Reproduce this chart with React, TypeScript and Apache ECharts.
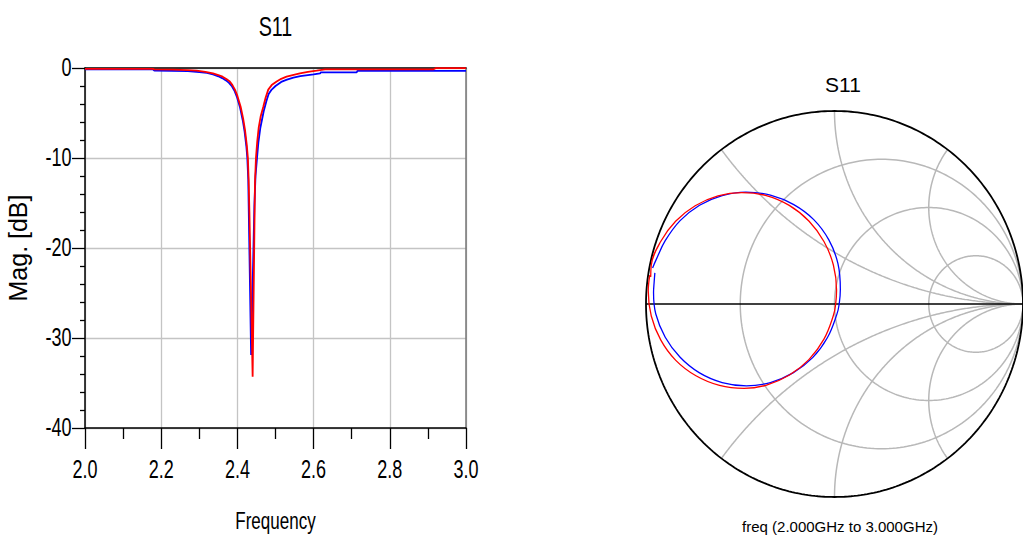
import React, { useEffect, useRef } from "react";
import * as echarts from "echarts";

// |S11| in dB versus frequency (GHz), two measured traces
const s11RedDb: [number, number][] = [
  [2.0, -0.1], [2.178, -0.1], [2.182, -0.15], [2.23, -0.18], [2.27, -0.24],
  [2.293, -0.3], [2.316, -0.42], [2.336, -0.6], [2.35, -0.78], [2.361, -0.96],
  [2.372, -1.25], [2.38, -1.5], [2.387, -1.9], [2.3935, -2.4], [2.4, -3.1],
  [2.4085, -4.3], [2.415, -5.6], [2.42, -6.9], [2.4245, -8.5], [2.4275, -10.0],
  [2.4295, -12.4], [2.4315, -16.0], [2.44, -34.3], [2.4461, -12.8], [2.4487, -10.0],
  [2.452, -8.2], [2.456, -6.6], [2.461, -5.4], [2.468, -4.3], [2.474, -3.3],
  [2.481, -2.4], [2.49, -1.9], [2.503, -1.5], [2.515, -1.2], [2.529, -0.96],
  [2.545, -0.78], [2.564, -0.6], [2.585, -0.43], [2.608, -0.3], [2.63, -0.15],
  [2.915, -0.15], [2.92, -0.02], [3.0, -0.02],
];

const s11BlueDb: [number, number][] = [
  [2.0, -0.15], [2.178, -0.15], [2.182, -0.3], [2.27, -0.35], [2.3, -0.45],
  [2.32, -0.55], [2.336, -0.72], [2.35, -0.92], [2.36, -1.12], [2.37, -1.38],
  [2.378, -1.65], [2.386, -2.05], [2.392, -2.5], [2.399, -3.25], [2.407, -4.4],
  [2.414, -5.8], [2.419, -7.1], [2.4235, -8.7], [2.426, -10.0], [2.4285, -12.4],
  [2.436, -31.9], [2.4445, -15.4], [2.4475, -12.0], [2.4515, -10.0], [2.455, -8.3],
  [2.46, -6.7], [2.469, -4.8], [2.476, -3.7], [2.482, -2.9], [2.49, -2.4],
  [2.5, -2.0], [2.515, -1.55], [2.53, -1.3], [2.547, -1.07], [2.565, -0.9],
  [2.585, -0.78], [2.6, -0.7], [2.617, -0.6], [2.619, -0.48], [2.713, -0.48],
  [2.715, -0.33], [3.0, -0.33],
];

// Reflection coefficient (real, imaginary) over 2–3 GHz
const s11RedGamma: [number, number][] = [
  [-0.975, 0.14], [-0.972, 0.202], [-0.922, 0.324], [-0.843, 0.429], [-0.739, 0.509],
  [-0.618, 0.56], [-0.492, 0.577], [-0.362, 0.562], [-0.24, 0.511], [-0.136, 0.43],
  [-0.056, 0.324], [-0.006, 0.202], [0.011, 0.071], [0.006, -0.002], [-0.006, -0.06],
  [-0.056, -0.182], [-0.136, -0.288], [-0.239, -0.368], [-0.36, -0.42], [-0.48, -0.437],
  [-0.61, -0.422], [-0.735, -0.372], [-0.842, -0.292], [-0.922, -0.186], [-0.972, -0.062],
  [-0.988, 0.068], [-0.98, 0.15],
];

const s11BlueGamma: [number, number][] = [
  [-0.965, 0.187], [-0.946, 0.23], [-0.898, 0.328], [-0.819, 0.432], [-0.716, 0.512],
  [-0.596, 0.562], [-0.47, 0.58], [-0.34, 0.564], [-0.216, 0.515], [-0.11, 0.437],
  [-0.03, 0.332], [0.018, 0.21], [0.031, 0.077], [0.025, 0.0], [0.012, -0.055],
  [-0.038, -0.175], [-0.116, -0.278], [-0.22, -0.357], [-0.34, -0.407], [-0.467, -0.424],
  [-0.596, -0.407], [-0.716, -0.357], [-0.819, -0.276], [-0.898, -0.172], [-0.948, -0.052],
  [-0.96, 0.06], [-0.957, 0.11], [-0.953, 0.161],
];

// Tick labels of the magnitude plot
const freqTickLabels = [2.0, 2.2, 2.4, 2.6, 2.8, 3.0];
const magTickLabels = [0, -10, -20, -30, -40];

// Smith chart grid: constant-resistance circles and constant-reactance arcs
const resistanceValues = [1 / 3, 1, 3];
const reactanceValues = [0.5, 1, 2];

const SANS = "'Liberation Sans', Arial, Helvetica, sans-serif";
const GRID_GREY = "#b8b8b8";
const CONDENSE = 0.72;

function arcPoints(cx: number, cy: number, r: number, a0: number, a1: number, n = 240) {
  const pts: [number, number][] = [];
  for (let i = 0; i <= n; i++) {
    const a = a0 + ((a1 - a0) * i) / n;
    pts.push([cx + r * Math.cos(a), cy + r * Math.sin(a)]);
  }
  return pts;
}

function resistanceCircle(r: number) {
  return arcPoints(r / (1 + r), 0, 1 / (1 + r), 0, Math.PI * 2);
}

function reactanceArc(x: number) {
  const ax = Math.abs(x);
  const cy = 1 / ax;
  const px = (ax * ax - 1) / (ax * ax + 1);
  const py = (2 * ax) / (ax * ax + 1);
  let a0 = Math.atan2(py - cy, px - 1);
  if (a0 < 0) a0 += Math.PI * 2;
  const pts = arcPoints(1, cy, 1 / ax, a0, (Math.PI * 3) / 2);
  return x < 0 ? pts.map(([u, v]) => [u, -v] as [number, number]) : pts;
}

function smithLine(data: [number, number][], color: string, width: number, z: number) {
  return {
    type: "line",
    xAxisIndex: 2,
    yAxisIndex: 2,
    data,
    symbol: "none",
    silent: true,
    z,
    lineStyle: { color, width },
  };
}

// Condensed text label (the plot uses a tall, narrow face)
function label(
  text: string,
  x: number,
  y: number,
  size: number,
  align: string,
  scaleX = CONDENSE,
  rotation = 0
) {
  return {
    type: "text",
    x,
    y,
    rotation,
    scaleX,
    silent: true,
    z: 10,
    style: {
      text,
      fill: "#000",
      fontSize: size,
      fontFamily: SANS,
      align,
      textAlign: align,
      verticalAlign: "middle",
      textVerticalAlign: "middle",
    },
  };
}

export default function App() {
  const ref = useRef<HTMLDivElement>(null);

  useEffect(() => {
    if (!ref.current) return;
    const chart = echarts.init(ref.current, undefined, { renderer: "svg" });

    const smithGrid: any[] = [];
    resistanceValues.forEach((r) => smithGrid.push(smithLine(resistanceCircle(r), GRID_GREY, 1.5, 1)));
    reactanceValues.forEach((x) => {
      smithGrid.push(smithLine(reactanceArc(x), GRID_GREY, 1.5, 1));
      smithGrid.push(smithLine(reactanceArc(-x), GRID_GREY, 1.5, 1));
    });
    smithGrid.push(smithLine([[-1, 0], [1, 0]], "#000", 1.6, 2));
    smithGrid.push(smithLine(arcPoints(0, 0, 1, 0, Math.PI * 2, 360), "#000", 1.8, 2));

    chart.setOption({
      animation: false,
      backgroundColor: "#fff",
      title: [
        {
          text: "S11",
          left: 838,
          top: 69,
          textAlign: "center",
          textStyle: { fontFamily: SANS, fontSize: 21, fontWeight: "normal", color: "#000" },
        },
        {
          text: "freq (2.000GHz to 3.000GHz)",
          left: 835,
          top: 514,
          textAlign: "center",
          textStyle: { fontFamily: SANS, fontSize: 15, fontWeight: "normal", color: "#000" },
        },
      ],
      grid: [
        { left: 85, top: 68, width: 381, height: 360, containLabel: false },
        { left: 646, top: 111, width: 386, height: 386, containLabel: false },
      ],
      xAxis: [
        {
          type: "value",
          gridIndex: 0,
          min: 2,
          max: 3,
          interval: 0.2,
          axisLine: { show: true, onZero: false, lineStyle: { color: "#000", width: 1.5 } },
          axisTick: { show: true, length: 21, lineStyle: { color: "#000", width: 1.3 } },
          minorTick: { show: true, splitNumber: 2, length: 11, lineStyle: { color: "#000", width: 1.3 } },
          axisLabel: { show: false },
          splitLine: { show: true, lineStyle: { color: "#c4c4c4", width: 1.3 } },
        },
        {
          type: "value",
          gridIndex: 0,
          position: "top",
          min: 2,
          max: 3,
          axisLine: { show: true, onZero: false, lineStyle: { color: "#000", width: 1.5 } },
          axisTick: { show: false },
          axisLabel: { show: false },
          splitLine: { show: false },
        },
        { type: "value", gridIndex: 1, min: -1, max: 1, show: false },
      ],
      yAxis: [
        {
          type: "value",
          gridIndex: 0,
          min: -40,
          max: 0,
          interval: 10,
          axisLine: { show: true, onZero: false, lineStyle: { color: "#000", width: 1.5 } },
          axisTick: { show: true, length: 13, lineStyle: { color: "#000", width: 1.3 } },
          minorTick: { show: true, splitNumber: 5, length: 5, lineStyle: { color: "#000", width: 1.3 } },
          axisLabel: { show: false },
          splitLine: { show: true, lineStyle: { color: "#c4c4c4", width: 1.3 } },
        },
        {
          type: "value",
          gridIndex: 0,
          position: "right",
          min: -40,
          max: 0,
          axisLine: { show: true, onZero: false, lineStyle: { color: "#777", width: 1.5 } },
          axisTick: { show: false },
          axisLabel: { show: false },
          splitLine: { show: false },
        },
        { type: "value", gridIndex: 1, min: -1, max: 1, show: false },
      ],
      series: [
        {
          type: "line",
          name: "S11 blue",
          xAxisIndex: 0,
          yAxisIndex: 0,
          data: s11BlueDb,
          symbol: "none",
          z: 3,
          lineStyle: { color: "#0000ff", width: 1.8 },
        },
        {
          type: "line",
          name: "S11 red",
          xAxisIndex: 0,
          yAxisIndex: 0,
          data: s11RedDb,
          symbol: "none",
          z: 4,
          lineStyle: { color: "#ff0000", width: 1.8 },
        },
        ...smithGrid,
        { ...smithLine(s11BlueGamma, "#0000ff", 1.3, 3), smooth: 0.4 },
        { ...smithLine(s11RedGamma, "#ff0000", 1.3, 4), smooth: 0.4 },
      ],
    });

    // Axis texts of the magnitude plot, placed through the plot's own scales
    const toPx = (f: number, db: number) =>
      chart.convertToPixel({ gridIndex: 0 }, [f, db]) as number[];
    const [left, top] = toPx(2, 0);
    const [right, bottom] = toPx(3, -40);
    const mid = (left + right) / 2;

    const texts: any[] = [];
    freqTickLabels.forEach((f) => {
      const [px] = toPx(f, -40);
      texts.push(label(f.toFixed(1), px, bottom + 41, 25, "center"));
    });
    magTickLabels.forEach((v) => {
      const [, py] = toPx(2, v);
      texts.push(label(String(v), left - 13.5, py - 1, 25, "right"));
    });
    texts.push(label("S11", mid, top - 41.5, 27, "center", 0.73));
    texts.push(label("Frequency", mid, bottom + 93.5, 23, "center", 0.74));
    texts.push(label("Mag. [dB]", 18, (top + bottom) / 2, 25, "center", 1, Math.PI / 2));

    chart.setOption({ graphic: texts });

    return () => chart.dispose();
  }, []);

  return (
    <div
      ref={ref}
      style={{ position: "absolute", left: 0, top: 0, width: 1023, height: 540 }}
    />
  );
}
